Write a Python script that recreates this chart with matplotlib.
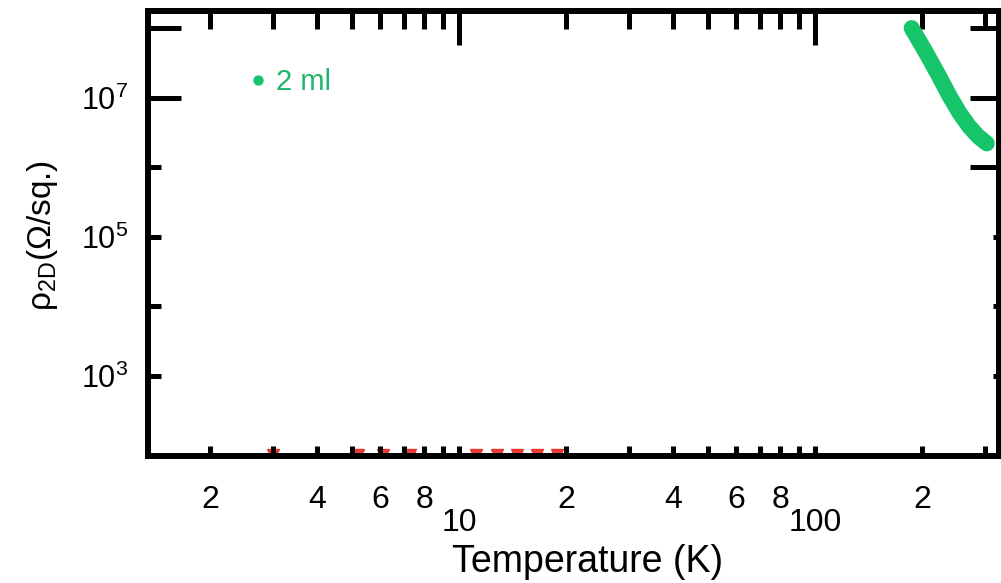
import matplotlib
matplotlib.use('Agg')
import matplotlib.pyplot as plt
import matplotlib.ticker as mticker
from matplotlib.lines import Line2D

plt.rcParams['font.family'] = ['Liberation Sans', 'DejaVu Sans']
plt.rcParams['mathtext.fontset'] = 'custom'
plt.rcParams['mathtext.rm'] = 'Liberation Sans'
plt.rcParams['mathtext.it'] = 'Liberation Sans'
plt.rcParams['mathtext.bf'] = 'Liberation Sans:bold'
plt.rcParams['mathtext.sf'] = 'Liberation Sans'

# ---- data ----
temp_2ml = [187, 204, 221.6, 239, 255, 270.7, 287, 304]
rho_2ml = [1.0e8, 4.67e7, 2.18e7, 1.05e7, 6.0e6, 3.9e6, 2.8e6, 2.2e6]

temp_red = [3.0, 5.2, 6.1, 7.3, 11.2, 12.8, 14.6, 16.6, 18.8]
rho_red = [72, 72, 72, 72, 72, 72, 72, 72, 72]

series_label = '2 ml'

x_major = [10, 100]
x_major_labels = ['10', '100']
x_minor = [2, 3, 4, 5, 6, 7, 8, 9, 20, 30, 40, 50, 60, 70, 80, 90, 200, 300]
x_minor_labels = ['2', '', '4', '', '6', '', '8', '', '2', '', '4', '', '6', '', '8', '', '2', '']

y_left_major = [1e7, 1e8]
y_left_major_labels = [r'$\mathregular{10^{7}}$', '']
y_left_minor = [1e3, 1e4, 1e5, 1e6]
y_left_minor_labels = [r'$\mathregular{10^{3}}$', '', r'$\mathregular{10^{5}}$', '']
y_right_major = [1e6, 1e7, 1e8]
y_right_minor = [1e3, 1e4, 1e5]

green = '#16c46a'
px = 0.72  # points per pixel at 100 dpi

fig = plt.figure(figsize=(10.01, 5.83), dpi=100)
ax = fig.add_axes([148 / 1001, (583 - 456) / 583, (999 - 148) / 1001, (456 - 11) / 583])
ax.set_xscale('log')
ax.set_yscale('log')
ax.set_xlim(1.338, 329)
ax.set_ylim(70.6, 1.76e8)

ax.plot(temp_red, rho_red, ls='none', marker='v', ms=9, color='#e8201a', alpha=0.85, zorder=1)
ax.plot(temp_2ml, rho_2ml, color=green, lw=16 * px, solid_capstyle='round',
        solid_joinstyle='round', zorder=2)

for s in ax.spines.values():
    s.set_linewidth(6 * px)
    s.set_zorder(5)

# bottom x axis
ax.xaxis.set_major_locator(mticker.FixedLocator(x_major))
ax.xaxis.set_major_formatter(mticker.FixedFormatter(x_major_labels))
ax.xaxis.set_minor_locator(mticker.FixedLocator(x_minor))
ax.xaxis.set_minor_formatter(mticker.FixedFormatter(x_minor_labels))
ax.tick_params(axis='x', which='both', direction='in', top=False, bottom=True,
               length=10 * px, width=5 * px, labelsize=23)
ax.tick_params(axis='x', which='minor', pad=29 * px)
ax.tick_params(axis='x', which='major', pad=52 * px)

# left y axis
ax.yaxis.set_major_locator(mticker.FixedLocator(y_left_major))
ax.yaxis.set_major_formatter(mticker.FixedFormatter(y_left_major_labels))
ax.yaxis.set_minor_locator(mticker.FixedLocator(y_left_minor))
ax.yaxis.set_minor_formatter(mticker.FixedFormatter(y_left_minor_labels))
ax.tick_params(axis='y', which='both', direction='in', left=True, right=False,
               width=5 * px, labelsize=22, pad=20 * px)
ax.tick_params(axis='y', which='major', length=33 * px)
ax.tick_params(axis='y', which='minor', length=13 * px)

# top axis
sx = ax.secondary_xaxis('top')
sx.xaxis.set_major_locator(mticker.FixedLocator(x_major))
sx.xaxis.set_minor_locator(mticker.FixedLocator(x_minor))
sx.xaxis.set_major_formatter(mticker.NullFormatter())
sx.xaxis.set_minor_formatter(mticker.NullFormatter())
sx.tick_params(which='both', direction='in', width=5 * px)
sx.tick_params(which='major', length=34 * px)
sx.tick_params(which='minor', length=18 * px)
sx.spines['top'].set_linewidth(6 * px)

# right axis
sy = ax.secondary_yaxis('right')
sy.yaxis.set_major_locator(mticker.FixedLocator(y_right_major))
sy.yaxis.set_minor_locator(mticker.FixedLocator(y_right_minor))
sy.yaxis.set_major_formatter(mticker.NullFormatter())
sy.yaxis.set_minor_formatter(mticker.NullFormatter())
sy.tick_params(which='both', direction='in', width=5 * px)
sy.tick_params(which='major', length=29 * px)
sy.tick_params(which='minor', length=6 * px)
sy.spines['right'].set_linewidth(6 * px)

ax.set_xlabel('Temperature (K)', fontsize=27)
ax.xaxis.set_label_coords((588 - 148) / 851, -(544 - 456) / 445)
ax.set_ylabel(r'$\mathregular{\rho_{2D}}$(Ω/sq.)', fontsize=24)
ax.yaxis.set_label_coords((60 - 148) / 851, (456 - 235) / 445)

handle = Line2D([], [], ls='none', marker='o', ms=9 * px, color=green)
leg = ax.legend([handle], [series_label], loc='center left',
                bbox_to_anchor=((251 - 148) / 851, (456 - 82) / 445),
                frameon=False, fontsize=21, handlelength=0.5, handletextpad=0.35,
                borderpad=0, borderaxespad=0)
for t in leg.get_texts():
    t.set_color('#1fb56b')

fig.savefig('out.png', dpi=100)
